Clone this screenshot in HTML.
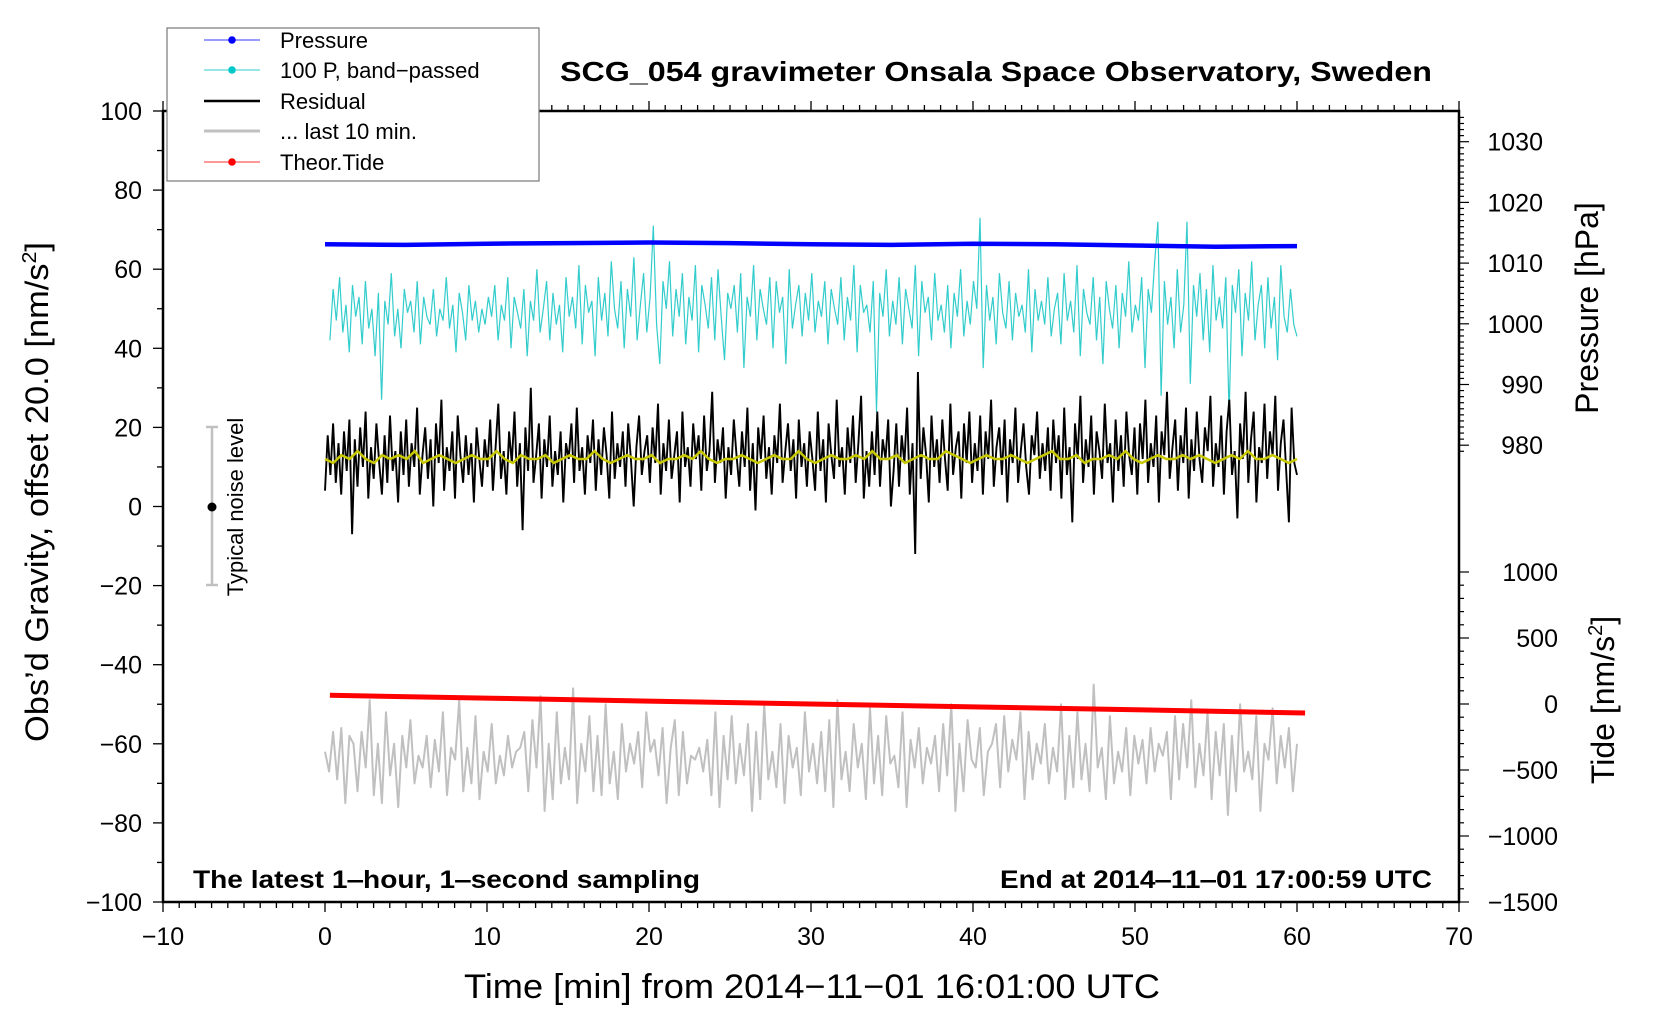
<!DOCTYPE html>
<html><head><meta charset="utf-8"><style>
html,body{margin:0;padding:0;background:#fff;}
svg{display:block;font-family:"Liberation Sans",Arial,sans-serif;}
</style></head><body>
<svg id="chart" width="1660" height="1020" viewBox="0 0 1660 1020" xmlns="http://www.w3.org/2000/svg">
<rect width="1660" height="1020" fill="#fff"/>
<g id="marks"></g>
<g id="axes"></g>
<text x="1432" y="81" text-anchor="end" font-size="28" font-weight="bold" textLength="872" lengthAdjust="spacingAndGlyphs">SCG_054 gravimeter Onsala Space Observatory, Sweden</text>
<text x="193" y="888" font-size="25" font-weight="bold" textLength="507" lengthAdjust="spacingAndGlyphs">The latest 1‒hour, 1‒second sampling</text>
<text x="1432" y="888" text-anchor="end" font-size="25" font-weight="bold" textLength="432" lengthAdjust="spacingAndGlyphs">End at 2014‒11‒01 17:00:59 UTC</text>
<text x="812" y="998" text-anchor="middle" font-size="34" textLength="696" lengthAdjust="spacingAndGlyphs">Time [min] from 2014−11−01 16:01:00 UTC</text>
<text transform="translate(48,492) rotate(-90)" text-anchor="middle" font-size="32" textLength="500" lengthAdjust="spacingAndGlyphs">Obs’d Gravity, offset 20.0 [nm/s<tspan font-size="20" dy="-12">2</tspan><tspan dy="12">]</tspan></text>
<text transform="translate(1598,308) rotate(-90)" text-anchor="middle" font-size="32">Pressure [hPa]</text>
<text transform="translate(1614,700) rotate(-90)" text-anchor="middle" font-size="32">Tide [nm/s<tspan font-size="20" dy="-12">2</tspan><tspan dy="12">]</tspan></text>
<g>
<line x1="212" y1="427" x2="212" y2="585" stroke="#c0c0c0" stroke-width="2.5"/>
<line x1="206" y1="427" x2="218" y2="427" stroke="#c0c0c0" stroke-width="2.5"/>
<line x1="206" y1="585" x2="218" y2="585" stroke="#c0c0c0" stroke-width="2.5"/>
<circle cx="212" cy="507" r="4.5" fill="#000"/>
<text transform="translate(243,507) rotate(-90)" text-anchor="middle" font-size="22">Typical noise level</text>
</g>
<g>
<rect x="167" y="28" width="372" height="153" fill="#fff" stroke="#777" stroke-width="1.2"/>
<g><line x1="204" y1="40" x2="260" y2="40" stroke="#3333ff" stroke-width="1"/><circle cx="232" cy="40" r="3.8" fill="#0000ff"/><text x="280" y="48" font-size="22">Pressure</text></g>
<g><line x1="204" y1="70" x2="260" y2="70" stroke="#33cccc" stroke-width="1"/><circle cx="232" cy="70" r="3.8" fill="#00c8c8"/><text x="280" y="78" font-size="22">100 P, band−passed</text></g>
<g><line x1="204" y1="101" x2="260" y2="101" stroke="#000" stroke-width="2.5"/><text x="280" y="109" font-size="22">Residual</text></g>
<g><line x1="204" y1="131" x2="260" y2="131" stroke="#c0c0c0" stroke-width="3"/><text x="280" y="139" font-size="22">... last 10 min.</text></g>
<g><line x1="204" y1="162" x2="260" y2="162" stroke="#ff3333" stroke-width="1"/><circle cx="232" cy="162" r="3.8" fill="#ff0000"/><text x="280" y="170" font-size="22">Theor.Tide</text></g>
</g>
</svg>
<script>
const residual = [4,18,8,21,6,16,3,19,9,22,-7,17,5,20,10,24,2,15,7,21,11,3,18,6,23,9,14,1,19,8,
22,5,16,10,25,3,13,20,7,17,0,21,11,27,4,15,9,19,2,23,13,6,18,8,16,1,20,12,5,17,
10,22,4,15,26,7,14,3,19,11,24,5,16,-6,20,9,30,6,13,21,2,17,10,23,5,14,8,19,1,16,
12,21,6,25,9,15,3,18,11,22,4,17,8,20,13,2,24,7,16,10,19,5,21,12,0,15,23,8,14,18,
6,20,11,26,3,16,9,22,7,13,19,1,24,10,15,5,21,12,18,4,23,9,14,29,6,17,11,20,2,15,
8,22,13,5,19,10,25,4,16,-1,20,12,23,7,15,3,18,11,26,6,14,21,9,17,2,22,10,16,5,19,
12,4,24,9,17,1,21,13,7,27,10,15,3,20,11,23,6,16,28,2,14,5,19,8,24,5,17,12,22,0,
9,21,5,18,11,25,3,16,-12,34,7,20,13,1,23,10,17,6,22,12,4,26,8,15,19,2,21,11,24,6,
16,9,23,3,19,12,27,5,15,20,8,22,1,17,11,25,6,14,21,10,3,18,13,24,7,16,9,20,4,22,
11,18,2,25,8,15,-4,21,12,28,6,17,10,23,3,19,14,7,26,11,16,1,22,9,18,5,24,13,8,20,
3,21,12,27,6,16,10,23,1,19,13,29,7,15,22,4,18,11,25,2,17,9,24,12,6,20,14,28,5,16,
10,23,3,19,27,8,14,-3,21,12,29,6,17,24,1,15,11,26,7,19,13,28,4,16,22,9,-4,25,11,8];
const bandPassed = [42,55,47,58,44,51,39,56,48,53,41,57,45,50,38,54,27,52,46,59,43,50,40,55,49,
52,44,57,41,53,48,46,55,43,50,47,58,45,51,39,54,49,42,56,47,52,44,50,46,53,
48,56,42,51,47,58,40,53,49,45,55,38,52,47,60,44,50,57,42,54,46,51,39,58,48,
53,45,61,41,56,49,52,38,58,47,54,43,62,50,45,57,40,55,48,63,42,51,59,44,53,
71,46,36,57,50,62,43,55,48,59,41,53,47,61,39,56,51,45,58,42,60,48,37,54,50,
56,44,59,35,53,48,61,42,55,50,46,58,40,57,49,53,36,60,45,51,56,43,54,47,59,
44,52,48,57,41,55,50,46,58,42,53,47,61,39,56,49,51,44,57,24,54,48,60,43,52,
46,58,41,55,50,45,61,38,57,49,53,42,59,47,51,44,56,40,54,48,60,43,52,46,57,
50,73,35,56,47,53,41,59,49,45,57,42,54,48,51,44,60,39,55,47,52,46,58,43,50,
54,41,59,47,52,44,61,38,55,49,46,58,42,53,36,57,50,45,56,40,54,48,62,44,51,
47,58,35,55,49,62,72,28,57,46,53,40,60,44,51,72,31,56,48,59,42,55,39,61,47,
53,45,58,23,56,49,60,38,54,47,62,42,51,56,40,58,45,53,37,61,48,44,55,46,43];
const last10 = [-62,-67,-57,-69,-56,-75,-58,-60,-72,-57,-66,-49,-73,-60,-75,-52,-68,-60,-76,-58,
-66,-54,-70,-63,-66,-58,-71,-59,-67,-52,-73,-61,-64,-49,-72,-61,-70,-53,-74,-62,
-67,-55,-70,-63,-68,-58,-66,-62,-61,-57,-72,-54,-66,-48,-77,-60,-74,-52,-70,-61,
-69,-46,-75,-60,-67,-53,-72,-58,-73,-50,-70,-62,-74,-55,-67,-60,-65,-57,-71,-52,
-62,-59,-68,-56,-75,-61,-54,-73,-57,-70,-63,-64,-61,-67,-59,-73,-52,-76,-58,-69,
-53,-70,-60,-68,-55,-77,-57,-74,-50,-69,-62,-71,-55,-75,-58,-66,-61,-73,-52,-67,
-60,-70,-57,-72,-54,-76,-49,-69,-62,-72,-55,-66,-60,-74,-51,-70,-58,-73,-53,-65,
-63,-71,-52,-76,-59,-66,-56,-70,-61,-65,-58,-72,-55,-68,-50,-77,-60,-72,-54,-64,
-66,-56,-73,-62,-60,-55,-71,-53,-67,-59,-64,-52,-74,-57,-69,-60,-65,-55,-70,-61,
-67,-50,-74,-58,-71,-52,-69,-60,-72,-45,-66,-61,-74,-53,-70,-62,-67,-56,-73,-58,
-65,-59,-70,-56,-67,-60,-63,-57,-74,-53,-69,-55,-66,-49,-71,-60,-68,-52,-74,-57,
-68,-55,-78,-58,-72,-50,-67,-62,-69,-53,-77,-60,-64,-51,-70,-58,-66,-56,-72,-60];
const smoothed = [12,11,13,12,14,12,11,13,12,13,12,14,11,12,13,12,11,12,13,12,12,14,12,11,13,12,12,13,11,12,
13,12,12,14,12,11,12,13,12,12,13,11,12,12,13,12,14,12,11,12,12,13,12,11,12,13,12,12,14,12,
11,12,13,12,12,13,12,14,12,12,13,11,12,13,12,12,14,13,12,11,12,13,12,12,13,12,11,12,13,14,
12,12,13,11,12,12,13,12,14,12,11,12,13,12,12,13,12,13,12,11,12,13,12,14,12,12,13,12,11,12];
const pressureHpa = [1013.1,1013.0,1013.2,1013.3,1013.4,1013.3,1013.1,1013.0,1013.2,1013.1,1012.9,1012.7,1012.8];
const tideNms2 = [66,44,21,-1,-23,-45,-68];
const xTicks = [-10,0,10,20,30,40,50,60,70];
const yTicks = [-100,-80,-60,-40,-20,0,20,40,60,80,100];
const pTicks = [980,990,1000,1010,1020,1030];
const tTicks = [-1500,-1000,-500,0,500,1000];

const NS = 'http://www.w3.org/2000/svg';
const L=163,R=1459,T=111,B=902;
function xs(v){return L+(v+10)/80*(R-L);}
function ys(g){return T+(100-g)/200*(B-T);}
function yp(p){return 141.7+(1030-p)*6.07;}
function yt(t){return 704-t*66/500;}
const marks=document.getElementById('marks');
const axes=document.getElementById('axes');
function el(tag,attrs,parent){const e=document.createElementNS(NS,tag);for(const k in attrs)e.setAttribute(k,attrs[k]);(parent||marks).appendChild(e);return e;}
function poly(vals,x0,x1,yf){
  const n=vals.length;
  return vals.map((v,i)=>xs(x0+(x1-x0)*i/(n-1)).toFixed(1)+','+yf(v).toFixed(1)).join(' ');
}
let e;
e=el('polyline',{points:poly(last10,0,60,ys),fill:'none',stroke:'#c0c0c0','stroke-width':2,'stroke-linejoin':'round'});


e=el('polyline',{points:poly(tideNms2,0.3,60.5,yt),fill:'none',stroke:'#ff0000','stroke-width':5});


e=el('polyline',{points:poly(bandPassed,0.3,60,ys),fill:'none',stroke:'#33cccc','stroke-width':1.2});


e=el('polyline',{points:poly(residual,0,60,ys),fill:'none',stroke:'#000','stroke-width':1.9});


e=el('polyline',{points:poly(smoothed,0,60,ys),fill:'none',stroke:'#c8c800','stroke-width':2.5});


e=el('polyline',{points:poly(pressureHpa,0,60,yp),fill:'none',stroke:'#0000ff','stroke-width':4.5});



el('rect',{x:L,y:T,width:R-L,height:B-T,fill:'none',stroke:'#000','stroke-width':2.5},axes);
for(let v=-10;v<=70;v+=1){const big=v%10===0;const len=big?10:6;
  el('line',{x1:xs(v),y1:B,x2:xs(v),y2:B+len,stroke:'#000','stroke-width':1.3},axes);
  el('line',{x1:xs(v),y1:T,x2:xs(v),y2:T-len,stroke:'#000','stroke-width':1.3},axes);}
xTicks.forEach(v=>{const t=el('text',{x:xs(v),y:945,'text-anchor':'middle','font-size':25},axes);t.textContent=String(v).replace('-','−');
  
  });
for(let g=-100;g<=100;g+=10){const len=g%20===0?10:6;el('line',{x1:L,y1:ys(g),x2:L-len,y2:ys(g),stroke:'#000','stroke-width':1.3},axes);}
yTicks.forEach(v=>{const t=el('text',{x:142,y:ys(v)+9,'text-anchor':'end','font-size':25},axes);t.textContent=String(v).replace('-','−');
  
  });
for(let p=979;p<=1034;p++){const len=p%10===0?10:5;el('line',{x1:R,y1:yp(p),x2:R+len,y2:yp(p),stroke:'#000','stroke-width':1.2},axes);}
pTicks.forEach(v=>{const t=el('text',{x:1543,y:yp(v)+9,'text-anchor':'end','font-size':25},axes);t.textContent=v;
  
  });
for(let t=-1500;t<=1000;t+=100){const len=t%500===0?10:5;el('line',{x1:R,y1:yt(t),x2:R+len,y2:yt(t),stroke:'#000','stroke-width':1.2},axes);}
tTicks.forEach(v=>{const t=el('text',{x:1558,y:yt(v)+9,'text-anchor':'end','font-size':25},axes);t.textContent=String(v).replace('-','−');
  
  });
</script>
</body></html>
